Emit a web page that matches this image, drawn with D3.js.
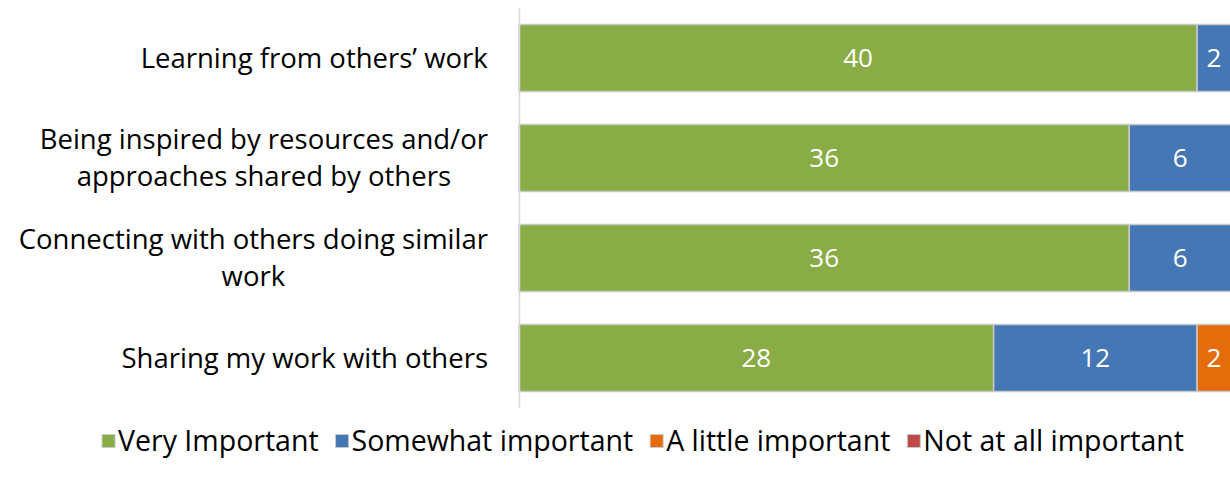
<!DOCTYPE html>
<html>
<head>
<meta charset="utf-8">
<script src="https://cdn.jsdelivr.net/npm/d3@7"></script>
<style>
  html, body { margin: 0; padding: 0; background: #fff; overflow: hidden; }
  svg { display: block; font-family: "Open Sans", Lato, sans-serif; }
</style>
</head>
<body>
<svg width="1230" height="487"></svg>
<script>
// categories (top to bottom), each label split into lines
const categories = [
  ["Learning from others\u2019 work"],
  ["Being inspired by resources and/or", "approaches shared by others"],
  ["Connecting with others doing similar", "work"],
  ["Sharing my work with others"]
];

const seriesNames = ["Very Important", "Somewhat important", "A little important", "Not at all important"];
const seriesColors = ["#8aac47", "#4677b5", "#e46c0a", "#be4b48"];

// values per series, in category order
const veryImportant = [40, 36, 36, 28];
const somewhatImportant = [2, 6, 6, 12];
const littleImportant = [0, 0, 0, 2];
const notImportant = [0, 0, 0, 0];

const seriesValues = [veryImportant, somewhatImportant, littleImportant, notImportant];

const svg = d3.select("svg");

// build rows for the stack
const rows = categories.map(function(c, i) {
  const r = { key: i };
  seriesNames.forEach(function(s, j) { r[s] = seriesValues[j][i]; });
  return r;
});

const stack = d3.stack().keys(seriesNames);
const layers = stack(rows);

const x = d3.scaleLinear().domain([0, 42]).range([519, 1231]);
const y = d3.scaleBand()
  .domain(categories.map(function(c, i) { return i; }))
  .range([8, 408])
  .paddingInner(0.33)
  .paddingOuter(0.165);

// bars
const layer = svg.append("g")
  .selectAll("g")
  .data(layers)
  .join("g")
  .attr("fill", function(d, i) { return seriesColors[i]; });

layer.selectAll("rect")
  .data(function(d) { return d.filter(function(p) { return p[1] - p[0] > 0; }); })
  .join("rect")
  .attr("x", function(d) { return x(d[0]); })
  .attr("y", function(d) { return y(d.data.key); })
  .attr("width", function(d) { return x(d[1]) - x(d[0]); })
  .attr("height", y.bandwidth())
  .attr("stroke", "#c9c9c9")
  .attr("stroke-width", 1.5);

// data labels
layer.selectAll("text")
  .data(function(d) { return d.filter(function(p) { return p[1] - p[0] > 0; }); })
  .join("text")
  .attr("x", function(d) { return (x(d[0]) + x(d[1])) / 2; })
  .attr("y", function(d) { return y(d.data.key) + y.bandwidth() / 2; })
  .attr("dy", "0.36em")
  .attr("text-anchor", "middle")
  .attr("fill", "#fff")
  .attr("font-size", 26)
  .text(function(d) { return d[1] - d[0]; });

// vertical axis line
svg.append("line")
  .attr("x1", 519.5).attr("x2", 519.5)
  .attr("y1", 8).attr("y2", 408)
  .attr("stroke", "#d9d9d9")
  .attr("stroke-width", 1.5);

// category labels
const lineGap = 37;
const catLabel = svg.append("g")
  .selectAll("text")
  .data(categories)
  .join("text")
  .attr("text-anchor", "middle")
  .attr("font-size", 27.5)
  .attr("fill", "#000");

catLabel.each(function(lines, i) {
  const t = d3.select(this);
  const cy = y(i) + y.bandwidth() / 2;
  const start = cy - (lines.length - 1) * lineGap / 2;
  lines.forEach(function(ln, k) {
    t.append("tspan")
      .attr("x", 0)
      .attr("y", start + k * lineGap)
      .attr("dy", "0.36em")
      .text(ln);
  });
});

// right edge of the widest line sits at 488, lines centered on each other
catLabel.each(function() {
  const w = this.getBBox().width;
  d3.select(this).selectAll("tspan").attr("x", 488 - w / 2);
});

// legend
const legend = svg.append("g");
const legendY = 441;
const sq = 13;
let lx = 0;
seriesNames.forEach(function(name, i) {
  const g = legend.append("g").attr("transform", "translate(" + lx + ",0)");
  g.append("rect")
    .attr("x", 0).attr("y", legendY - sq / 2)
    .attr("width", sq).attr("height", sq)
    .attr("fill", seriesColors[i])
    .attr("stroke", "#c9c9c9")
    .attr("stroke-width", 1);
  const t = g.append("text")
    .attr("x", sq + 3)
    .attr("y", legendY)
    .attr("dy", "0.36em")
    .attr("font-size", 28.5)
    .attr("fill", "#000")
    .text(name);
  lx += sq + 3 + t.node().getComputedTextLength() + 17;
});
const legendW = lx - 17;
legend.attr("transform", "translate(" + (643 - legendW / 2) + ",0)");
</script>
</body>
</html>
